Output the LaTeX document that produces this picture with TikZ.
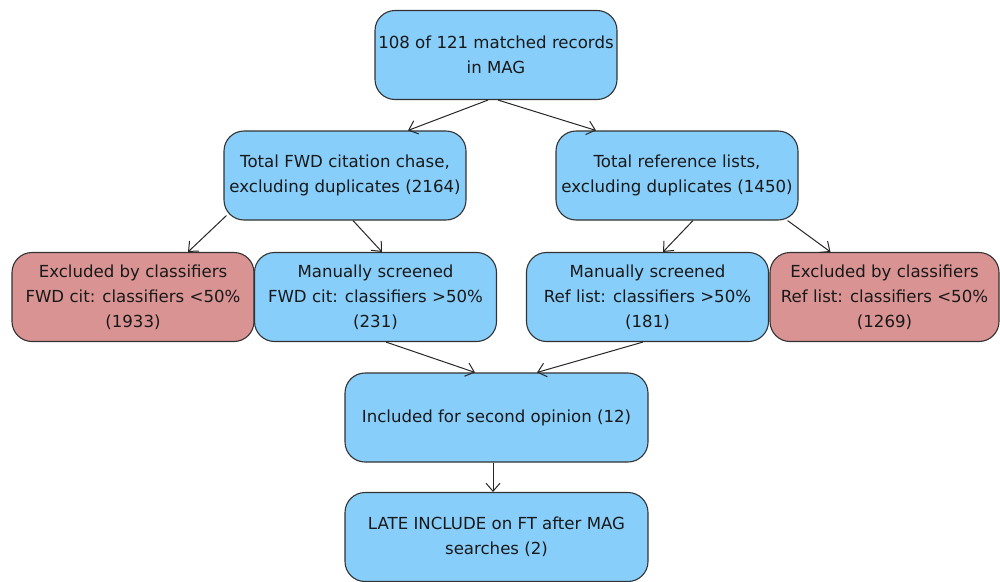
\documentclass[tikz,border=0pt]{standalone}
\usepackage{fontspec}
\setmainfont{DejaVu Sans}
\usetikzlibrary{arrows.meta}
\definecolor{boxblue}{RGB}{135,206,250}
\definecolor{boxred}{RGB}{217,147,147}
\tikzset{
	stage/.style={draw=black!80, line width=1.1pt, rounded corners=20pt, fill=boxblue,
		minimum width=242pt, minimum height=89pt, align=center, inner sep=1pt,
		font=\fontsize{16.6}{25}\selectfont, text=black!90},
	dropped/.style={stage, fill=boxred},
	flow/.style={draw=black!85, line width=1pt, -{Straight Barb[length=8pt,width=14pt]}}
}
\begin{document}
\begin{tikzpicture}[x=1pt, y=-1pt]
			%%%%% START %%%%%
			\useasboundingbox (0, 0) rectangle (1000, 581);
			
			\node[stage] (mag) at (496, 55) {108 of 121 matched records\\in MAG};
			
			\node[stage] (fwd) at (345, 175.5) {Total FWD citation chase,\\excluding duplicates (2164)};
			\node[stage] (ref) at (677, 175.5) {Total reference lists,\\excluding duplicates (1450)};
			
			\node[dropped] (exfwd) at (133, 297) {Excluded by classifiers\\FWD cit: classifiers <50\%\\(1933)};
			\node[stage] (manfwd) at (375.5, 297) {Manually screened\\FWD cit: classifiers >50\%\\(231)};
			\node[stage] (manref) at (647.5, 297) {Manually screened\\Ref list: classifiers >50\%\\(181)};
			\node[dropped, minimum width=229pt] (exref) at (884.5, 297) {Excluded by classifiers\\Ref list: classifiers <50\%\\(1269)};
			
			\node[stage, minimum width=303pt] (second) at (496.5, 417.5) {Included for second opinion (12)};
			\node[stage, minimum width=303pt] (late) at (496.5, 537) {LATE INCLUDE on FT after MAG\\searches (2)};
			
			%%%%% ARROWS %%%%%
			\draw[flow] ([xshift=-8]mag.south) -- ([xshift=63]fwd.north);
			\draw[flow] ([xshift=2]mag.south) -- ([xshift=-81]ref.north);
			
			\draw[flow] ([shift={(3,-5)}]fwd.south west) -- ([xshift=55]exfwd.north);
			\draw[flow] ([xshift=8]fwd.south) -- ([xshift=6.5]manfwd.north);
			\draw[flow] ([xshift=16]ref.south) -- ([xshift=15.5]manref.north);
			\draw[flow] ([xshift=-11]ref.south east) -- ([xshift=-54]exref.north);
			
			\draw[flow] ([xshift=10.5]manfwd.south) -- ([xshift=-21.5]second.north);
			\draw[flow] ([xshift=-4.5]manref.south) -- ([xshift=40.5]second.north);
			
			\draw[flow] ([xshift=-3.5]second.south) -- ([xshift=-3.5]late.north);
			%%%%% END %%%%%
\end{tikzpicture}
\end{document}
